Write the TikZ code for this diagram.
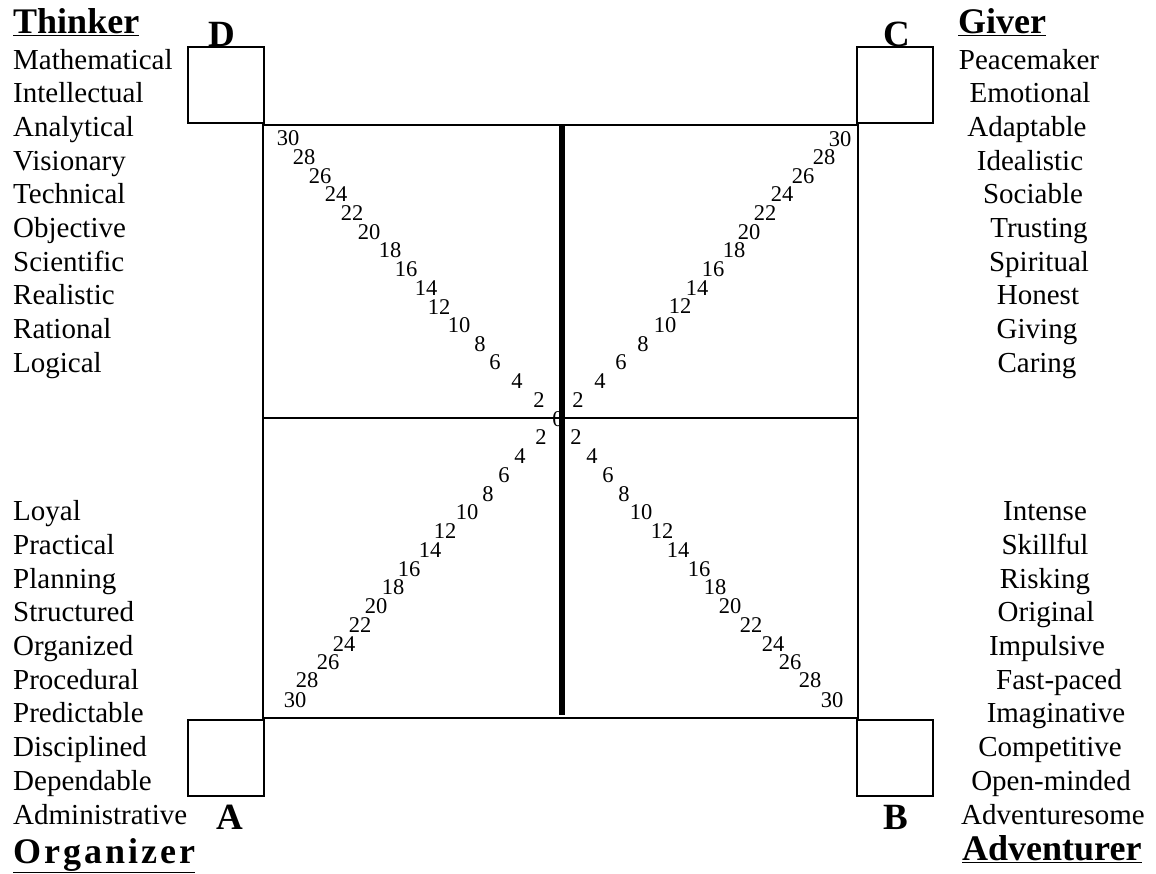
\documentclass[tikz,border=0pt]{standalone}
\usepackage{fontspec}
\setmainfont{Liberation Serif}
\begin{document}
\begin{tikzpicture}[x=1pt,y=-1pt,
  word/.style={font=\fontsize{29}{32}\selectfont, inner sep=0pt},
  head/.style={font=\fontsize{36}{40}\selectfont\bfseries, inner sep=0pt},
  corner/.style={font=\fontsize{37}{39}\selectfont\bfseries, inner sep=0pt},
  num/.style={font=\fontsize{22.5}{24}\selectfont, inner sep=0pt},
  frame/.style={line width=2.5pt},
  axis/.style={line width=5.5pt},
  box/.style={draw, line width=2pt, minimum width=76pt, minimum height=76pt, inner sep=0pt}]
\useasboundingbox (0,0) rectangle (1156,873);

% frame coordinates
\coordinate (TL) at (263,125);
\coordinate (TR) at (858,125);
\coordinate (BL) at (263,718);
\coordinate (BR) at (858,718);
\coordinate (ML) at (263,418);
\coordinate (MR) at (858,418);
\coordinate (VT) at (562,125);
\coordinate (VB) at (562,715);

% zero at centre (mostly hidden)
\node[num] (zero) at (558,419) {0};

\draw[frame] (TL) -- (TR) -- (BR) -- (BL) -- cycle;
\draw[frame] (ML) -- (MR);
\draw[axis] (VT) -- (VB);

% corner boxes
\node[box] (boxD) at (226,85) {};
\node[box] (boxC) at (895,85) {};
\node[box] (boxA) at (226,757.5) {};
\node[box] (boxB) at (895,757.5) {};

\node[corner] (lD) at (222,34) {D};
\node[corner] (lC) at (897,34) {C};
\node[corner] (lA) at (230,817) {A};
\node[corner] (lB) at (896,817) {B};

% headings
\node[head, anchor=base west] (hThinker) at (13,33) {\underline{Thinker}};
\node[head, anchor=base west] (hGiver) at (958,33) {\underline{Giver}};
\node[head, anchor=base west] (hOrg) at (13,863) {\underline{O\kern3pt r\kern3pt g\kern3pt a\kern3pt n\kern3pt i\kern3pt z\kern3pt e\kern3pt r}};
\node[head, anchor=base west] (hAdv) at (962,860) {\underline{Adventurer}};

% left top words
\foreach \w [count=\i from 0] in {Mathematical,Intellectual,Analytical,Visionary,Technical,Objective,Scientific,Realistic,Rational,Logical}
  \node[word, anchor=base west] (lt\i) at (13,{69+33.7*\i}) {\w};

% left bottom words
\foreach \w [count=\i from 0] in {Loyal,Practical,Planning,Structured,Organized,Procedural,Predictable,Disciplined,Dependable,Administrative}
  \node[word, anchor=base west] (lb\i) at (13,{520.7+33.7*\i}) {\w};

% right top words
\foreach \w/\cx [count=\i from 0] in {Peacemaker/1029,Emotional/1030,Adaptable/1027,Idealistic/1030,Sociable/1033,Trusting/1039,Spiritual/1039,Honest/1038,Giving/1037,Caring/1037}
  \node[word, anchor=base] (rt\i) at (\cx,{69+33.7*\i}) {\w};

% right bottom words
\foreach \w/\cx [count=\i from 0] in {Intense/1045,Skillful/1045,Risking/1045,Original/1046,Impulsive/1047,Fast-paced/1059,Imaginative/1056,Competitive/1050,Open-minded/1051,Adventuresome/1053}
  \node[word, anchor=base] (rb\i) at (\cx,{520.7+33.7*\i}) {\w};

% diagonal scales
\foreach \n/\px/\py in {30/288/138,28/304/157,26/320/176,24/336/194,22/352/213,20/369/232,18/390/250,16/406/269,14/426/288,12/439/307,10/459/325,8/480/344,6/495/362,4/517/381,2/539/400}
  \node[num] (ul\n) at (\px,\py) {\n};
\foreach \n/\px/\py in {30/840/139,28/824/157,26/803/176,24/782/194,22/765/213,20/749/232,18/734/250,16/713/269,14/697/288,12/680/306,10/665/325,8/643/344,6/621/362,4/600/381,2/578/400}
  \node[num] (ur\n) at (\px,\py) {\n};
\foreach \n/\px/\py in {2/541/437,4/520/456,6/504/475,8/488/494,10/467/512,12/445/531,14/430/550,16/409/569,18/393/587,20/376/606,22/360/625,24/344/644,26/328/662,28/307/680,30/295/700}
  \node[num] (ll\n) at (\px,\py) {\n};
\foreach \n/\px/\py in {2/576/437,4/592/456,6/608/475,8/624/494,10/641/512,12/662/531,14/678/550,16/699/569,18/715/587,20/730/606,22/751/625,24/773/644,26/790/662,28/810/680,30/832/700}
  \node[num] (lr\n) at (\px,\py) {\n};
\end{tikzpicture}
\end{document}
